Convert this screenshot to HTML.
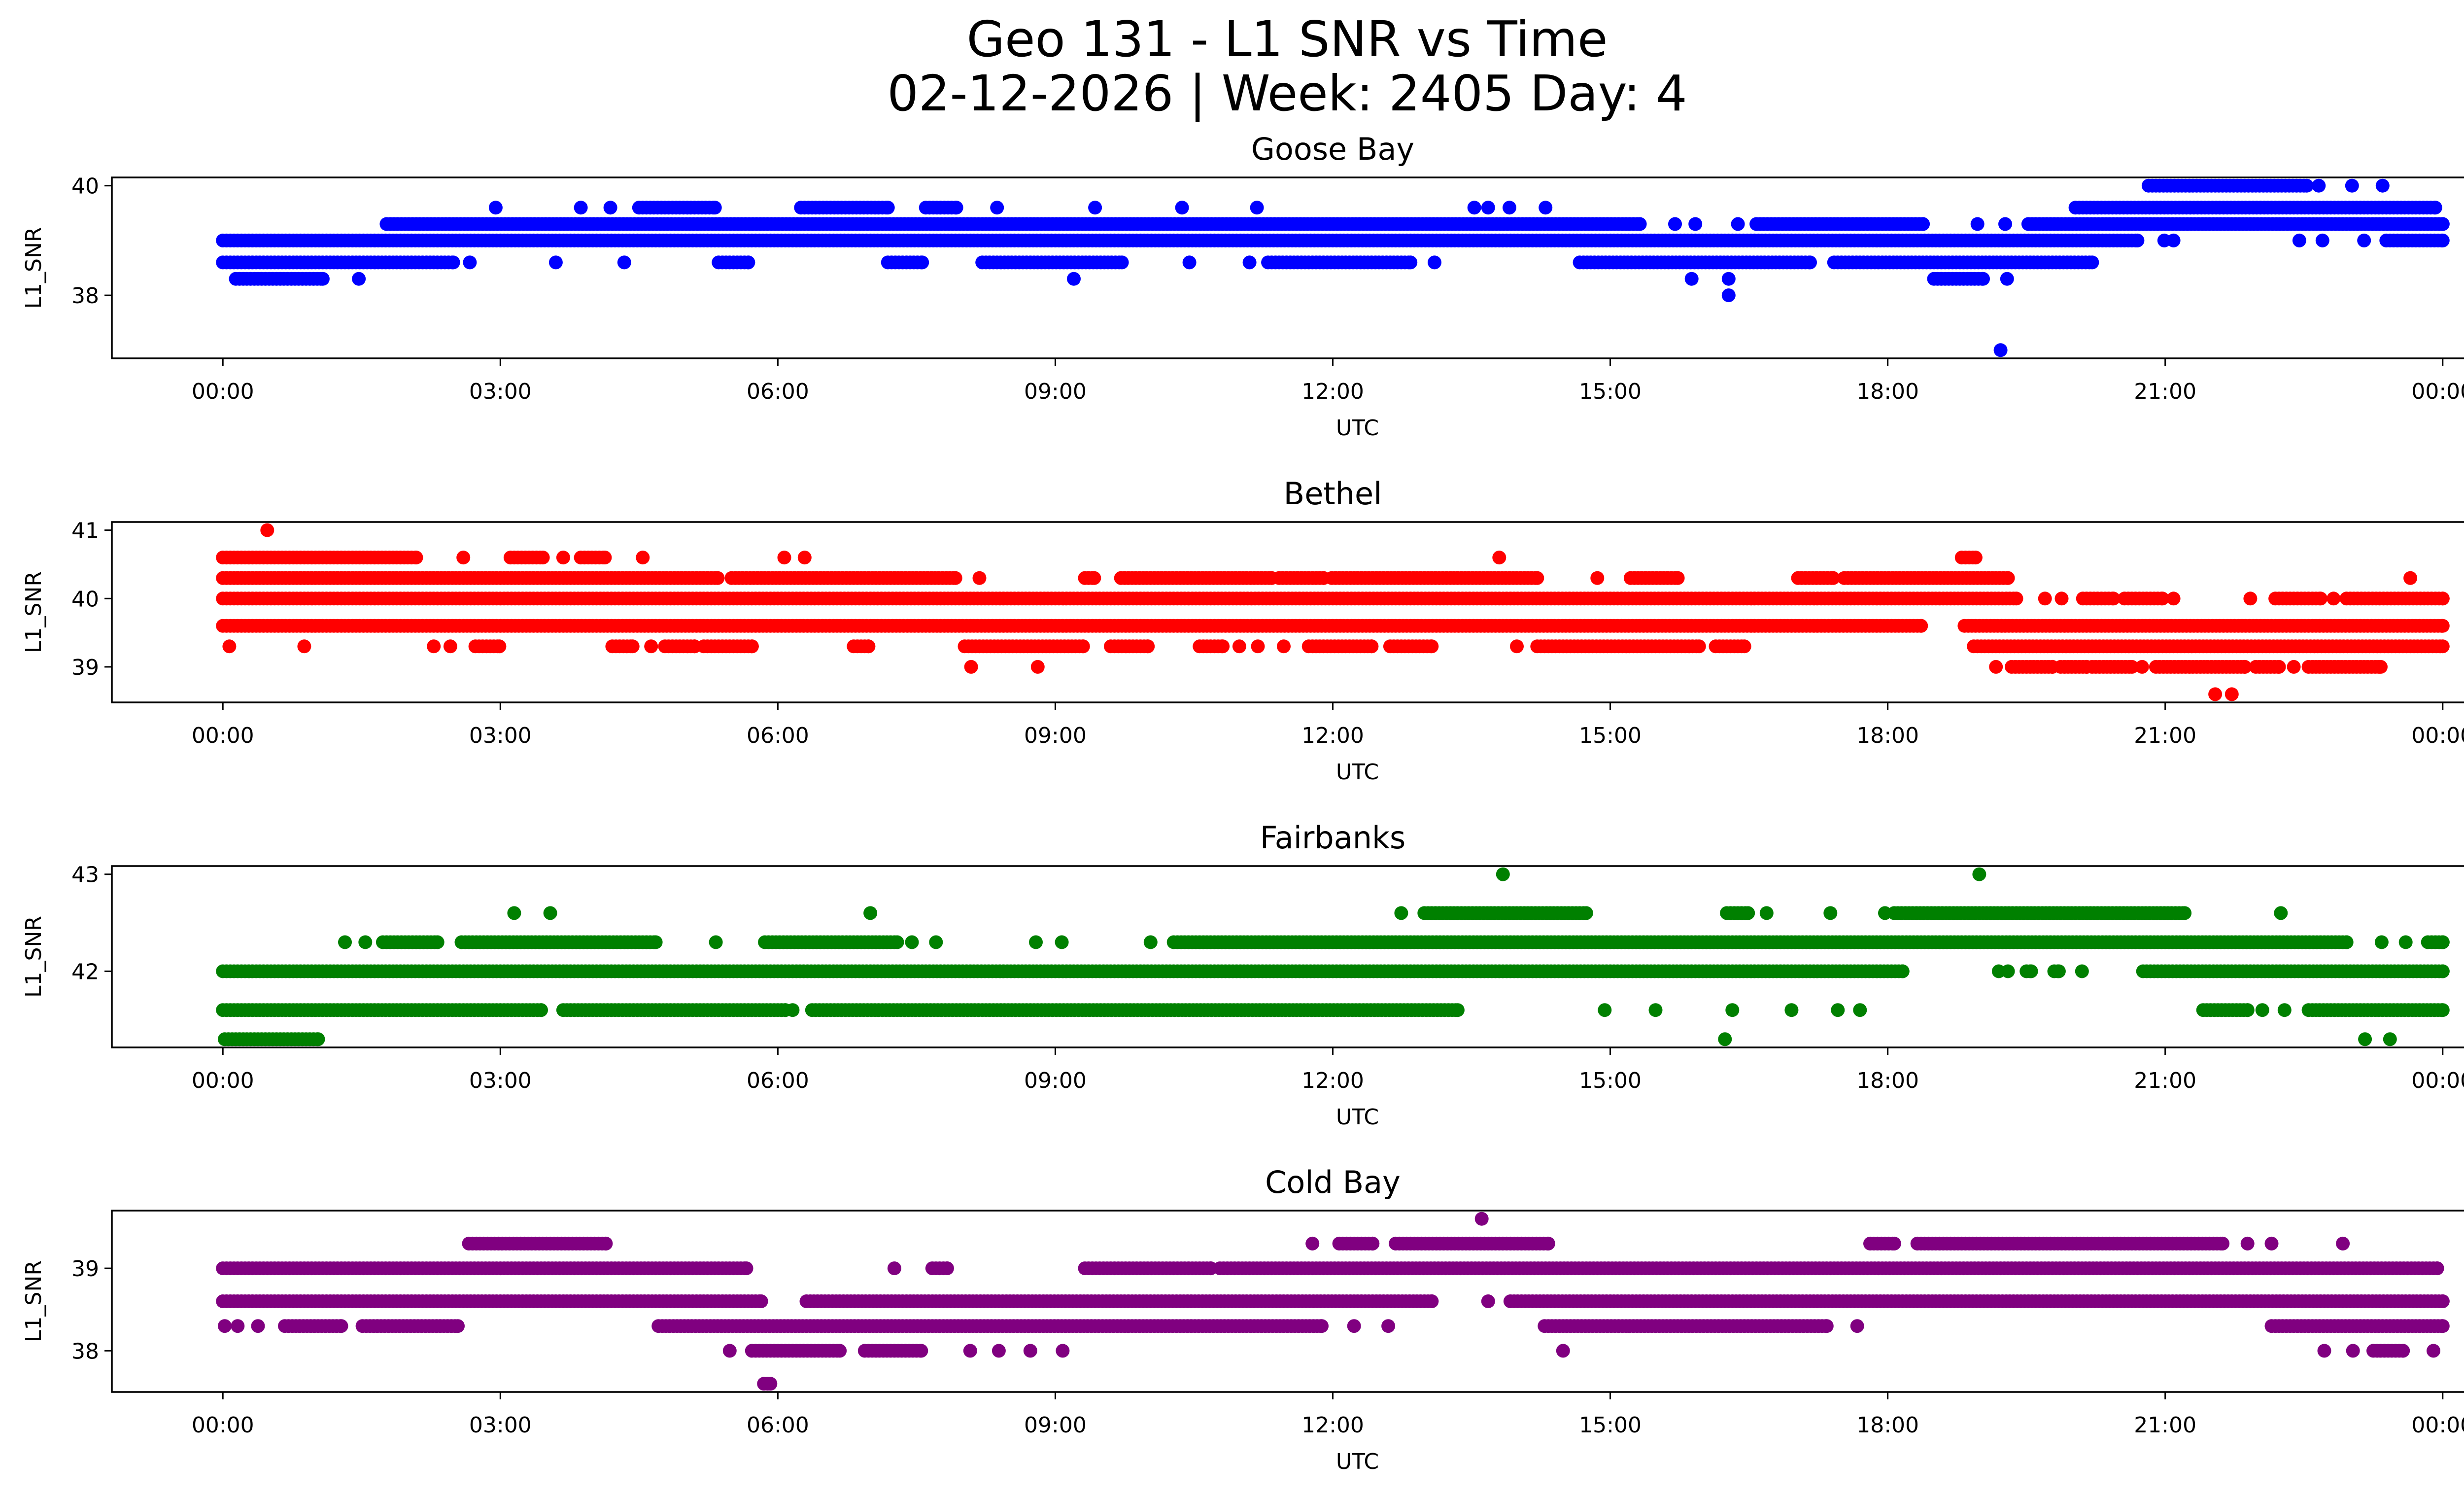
<!DOCTYPE html>
<html><head><meta charset="utf-8"><title>Geo 131 - L1 SNR vs Time</title>
<style>
html,body{margin:0;padding:0;background:#fff;overflow:hidden;}
svg{display:block;font-family:"DejaVu Sans","Liberation Sans",sans-serif;}
</style></head>
<body>
<svg id="fig" width="5225" height="3033" viewBox="0 0 5225 3033" xmlns="http://www.w3.org/2000/svg">
<rect x="0" y="0" width="5225" height="3033" fill="#fff"/>
<text x="2612" y="114" font-size="100" text-anchor="middle" fill="#000">Geo 131 - L1 SNR vs Time</text>
<text x="2612" y="224" font-size="100" text-anchor="middle" fill="#000">02-12-2026 | Week: 2405 Day: 4</text>
</svg>
<script>
// ---- data (hours UTC, runs of consecutive samples at each SNR level) ----
const xTickLabels = ["00:00","03:00","06:00","09:00","12:00","15:00","18:00","21:00","00:00"];
const xTickHours = [0,3,6,9,12,15,18,21,24];

const gooseBayLevels = [40, 39.6, 39.3, 39.0, 38.6, 38.3, 38.0, 37];
const gooseBayRuns = [
 [[20.82,22.53],[22.66,22.66],[23.02,23.02],[23.35,23.35]],
 [[2.95,2.95],[3.87,3.87],[4.19,4.19],[4.5,5.32],[6.25,7.19],[7.6,7.93],[8.37,8.37],[9.43,9.43],[10.37,10.37],[11.18,11.18],[13.53,13.53],[13.68,13.68],[13.91,13.91],[14.3,14.3],[20.03,23.92]],
 [[1.77,15.32],[15.7,15.7],[15.92,15.92],[16.38,16.38],[16.58,18.38],[18.97,18.97],[19.27,19.27],[19.52,24]],
 [[0,20.7],[20.99,20.99],[21.09,21.09],[22.45,22.45],[22.7,22.7],[23.15,23.15],[23.39,24]],
 [[0,2.49],[2.67,2.67],[3.6,3.6],[4.34,4.34],[5.36,5.68],[7.19,7.56],[8.21,9.72],[10.45,10.45],[11.1,11.1],[11.3,12.84],[13.1,13.1],[14.67,17.16],[17.42,20.21]],
 [[0.14,1.08],[1.47,1.47],[9.2,9.2],[15.88,15.88],[16.28,16.28],[18.5,19.03],[19.29,19.29]],
 [[16.28,16.28]],
 [[19.22,19.22]]
];
const gooseBayTicks = [38, 40];

const bethelLevels = [41, 40.6, 40.3, 40.0, 39.6, 39.3, 39.0, 38.6];
const bethelRuns = [
 [[0.48,0.48]],
 [[0,2.09],[2.6,2.6],[3.11,3.46],[3.68,3.68],[3.87,4.13],[4.54,4.54],[6.07,6.07],[6.29,6.29],[13.8,13.8],[18.8,18.95]],
 [[0,5.35],[5.5,7.92],[8.18,8.18],[9.32,9.42],[9.71,11.34],[11.42,11.9],[11.99,14.21],[14.86,14.86],[15.22,15.73],[17.03,17.41],[17.53,19.3],[23.65,23.65]],
 [[0,19.39],[19.7,19.7],[19.88,19.88],[20.11,20.44],[20.56,20.97],[21.09,21.09],[21.92,21.92],[22.19,22.68],[22.82,22.82],[22.96,24]],
 [[0,18.36],[18.83,24]],
 [[0.07,0.07],[0.88,0.88],[2.28,2.28],[2.46,2.46],[2.73,2.99],[4.21,4.43],[4.63,4.63],[4.78,5.1],[5.2,5.72],[6.82,6.98],[8.02,9.3],[9.6,10.0],[10.56,10.81],[10.99,10.99],[11.19,11.19],[11.47,11.47],[11.74,12.42],[12.62,13.07],[13.99,13.99],[14.21,15.96],[16.14,16.45],[18.93,24]],
 [[8.09,8.09],[8.81,8.81],[19.17,19.17],[19.34,19.78],[19.87,20.15],[20.21,20.64],[20.75,20.75],[20.9,21.86],[21.98,22.23],[22.39,22.39],[22.55,23.33]],
 [[21.54,21.54],[21.72,21.72]]
];
const bethelTicks = [39, 40, 41];

const fairbanksLevels = [43, 42.6, 42.3, 42.0, 41.6, 41.3];
const fairbanksRuns = [
 [[13.84,13.84],[18.99,18.99]],
 [[3.15,3.15],[3.54,3.54],[7.0,7.0],[12.74,12.74],[12.99,14.74],[16.26,16.49],[16.69,16.69],[17.38,17.38],[17.97,17.97],[18.07,21.21],[22.25,22.25]],
 [[1.32,1.32],[1.54,1.54],[1.73,2.32],[2.58,4.68],[5.33,5.33],[5.86,7.29],[7.45,7.45],[7.71,7.71],[8.79,8.79],[9.07,9.07],[10.03,10.03],[10.28,22.96],[23.34,23.34],[23.6,23.6],[23.84,24]],
 [[0,18.16],[19.2,19.2],[19.3,19.3],[19.5,19.55],[19.8,19.85],[20.1,20.1],[20.76,24]],
 [[0,3.44],[3.68,6.08],[6.16,6.16],[6.37,13.35],[14.94,14.94],[15.49,15.49],[16.32,16.32],[16.96,16.96],[17.46,17.46],[17.7,17.7],[21.41,21.89],[22.05,22.05],[22.29,22.29],[22.55,24]],
 [[0.02,1.03],[16.24,16.24],[23.16,23.16],[23.43,23.43]]
];
const fairbanksTicks = [42, 43];

const coldBayLevels = [39.6, 39.3, 39.0, 38.6, 38.3, 38.0, 37.6];
const coldBayRuns = [
 [[13.61,13.61]],
 [[2.66,4.14],[11.78,11.78],[12.07,12.43],[12.68,14.33],[17.81,18.07],[18.32,21.62],[21.89,21.89],[22.15,22.15],[22.92,22.92]],
 [[0,5.66],[7.26,7.26],[7.67,7.83],[9.32,10.68],[10.78,23.94]],
 [[0,5.82],[6.31,13.07],[13.68,13.68],[13.92,24]],
 [[0.02,0.02],[0.16,0.16],[0.38,0.38],[0.67,1.28],[1.51,2.54],[4.71,11.88],[12.23,12.23],[12.6,12.6],[14.29,17.34],[17.67,17.67],[22.15,24]],
 [[5.48,5.48],[5.72,6.67],[6.94,7.55],[8.08,8.08],[8.39,8.39],[8.73,8.73],[9.08,9.08],[14.49,14.49],[22.72,22.72],[23.03,23.03],[23.25,23.57],[23.9,23.9]],
 [[5.85,5.92]]
];
const coldBayTicks = [38, 39];

const stationNames = ["Goose Bay","Bethel","Fairbanks","Cold Bay"];

// ---- layout ----
const NS = "http://www.w3.org/2000/svg";
const svg = document.getElementById("fig");
const AX_L = 227, AX_R = 5182;
const X_MIN = -1.2, X_MAX = 25.2;
const panels = [
  {slug:"goose-bay", levels:gooseBayLevels, runs:gooseBayRuns, ticks:gooseBayTicks, color:"#0000ff", top:360, bottom:727},
  {slug:"bethel", levels:bethelLevels, runs:bethelRuns, ticks:bethelTicks, color:"#ff0000", top:1059, bottom:1425},
  {slug:"fairbanks", levels:fairbanksLevels, runs:fairbanksRuns, ticks:fairbanksTicks, color:"#008000", top:1757, bottom:2125},
  {slug:"cold-bay", levels:coldBayLevels, runs:coldBayRuns, ticks:coldBayTicks, color:"#800080", top:2456, bottom:2824}
];
function xScale(h){ return AX_L + (h - X_MIN) / (X_MAX - X_MIN) * (AX_R - AX_L); }
function mk(tag, attrs){ const e = document.createElementNS(NS, tag); for (const k in attrs) e.setAttribute(k, attrs[k]); return e; }

panels.forEach((p, pi) => {
  const lo = Math.min(...p.levels), hi = Math.max(...p.levels);
  const m = (hi - lo) * 0.05;
  const yMin = lo - m, yMax = hi + m;
  const yScale = v => p.bottom - (v - yMin) / (yMax - yMin) * (p.bottom - p.top);

  const g = mk("g", {});
  
  
  svg.appendChild(g);

  const pts = mk("g", {fill: p.color});
  
  
  g.appendChild(pts);
  p.levels.forEach((lv, li) => {
    const y = yScale(lv);
    p.runs[li].forEach(run => {
      const step = 0.04;
      for (let t = run[0]; t <= run[1] + 1e-9; t += step) {
        const c = mk("circle", {cx: xScale(t).toFixed(1), cy: y.toFixed(1), r: 14});
        
        
        pts.appendChild(c);
      }
      if (run[1] > run[0]) {
        const c = mk("circle", {cx: xScale(run[1]).toFixed(1), cy: y.toFixed(1), r: 14});
        
        
        pts.appendChild(c);
      }
    });
  });

  const frame = mk("rect", {x: AX_L, y: p.top, width: AX_R - AX_L, height: p.bottom - p.top, fill: "none", stroke: "#000", "stroke-width": 3.5});
  
  
  g.appendChild(frame);

  xTickHours.forEach((h, i) => {
    const x = xScale(h);
    const tk = mk("line", {x1: x, x2: x, y1: p.bottom, y2: p.bottom + 15, stroke: "#000", "stroke-width": 3});
    
    
    g.appendChild(tk);
    const tl = mk("text", {x: x, y: p.bottom + 82, "font-size": 44, "text-anchor": "middle", fill: "#000"});
    tl.textContent = xTickLabels[i];
    
    
    g.appendChild(tl);
  });
  const xl = mk("text", {x: (AX_L + AX_R) / 2 + 50, y: p.bottom + 156, "font-size": 44, "text-anchor": "middle", fill: "#000"});
  xl.textContent = "UTC";
  
  
  g.appendChild(xl);

  p.ticks.forEach(v => {
    const y = yScale(v);
    const tk = mk("line", {x1: AX_L - 15, x2: AX_L, y1: y, y2: y, stroke: "#000", "stroke-width": 3});
    
    
    g.appendChild(tk);
    const tl = mk("text", {x: AX_L - 26, y: y + 16, "font-size": 44, "text-anchor": "end", fill: "#000"});
    tl.textContent = String(v);
    
    
    g.appendChild(tl);
  });
  const cy = (p.top + p.bottom) / 2;
  const yl = mk("text", {x: 0, y: 0, "font-size": 44, "text-anchor": "middle", fill: "#000", transform: "translate(83," + cy + ") rotate(-90)"});
  yl.textContent = "L1_SNR";
  
  
  g.appendChild(yl);

  const ttl = mk("text", {x: (AX_L + AX_R) / 2, y: p.top - 36, "font-size": 62, "text-anchor": "middle", fill: "#000"});
  ttl.textContent = stationNames[pi];
  
  
  g.appendChild(ttl);
});
</script>
</body></html>
